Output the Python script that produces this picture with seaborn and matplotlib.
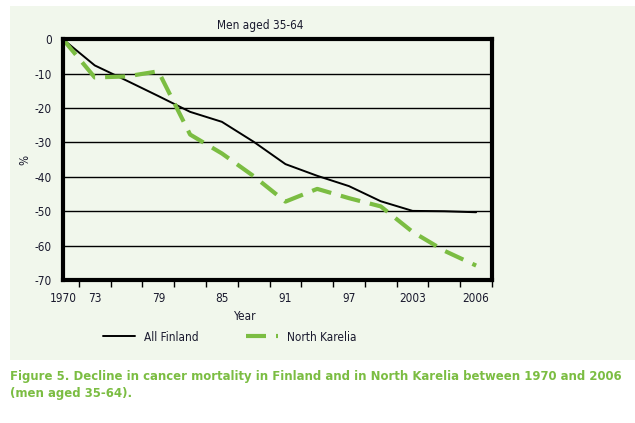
import numpy as np
import pandas as pd
import matplotlib.pyplot as plt
from matplotlib.patches import Rectangle
from matplotlib.lines import Line2D
import seaborn as sns

# data points (3-year steps)
point_idx = list(range(14))
all_finland = [0, -7.6, -12.0, -16.5, -21.1, -24.0, -29.8, -36.3, -39.7, -42.7, -47.1, -49.9, -50.0, -50.3]
north_karelia = [0, -11.1, -10.8, -9.3, -27.7, -33.2, -39.8, -47.2, -43.5, -46.2, -48.6, -56.0, -61.5, -65.8]

tick_pos = [0, 1, 3, 5, 7, 9, 11, 13]
tick_labels = ["1970", "73", "79", "85", "91", "97", "2003", "2006"]
y_ticks = [0, -10, -20, -30, -40, -50, -60, -70]

green = "#7bbd42"
panel = "#f1f7ec"
ink = "#1a1a2e"
fs = 8.5

sns.set_style("white")
plt.rcParams["font.family"] = ["DejaVu Sans"]
plt.rcParams["font.stretch"] = "condensed"
plt.rcParams["text.color"] = ink
plt.rcParams["xtick.color"] = ink
plt.rcParams["ytick.color"] = ink

df = pd.DataFrame({"idx": point_idx * 2,
                   "value": all_finland + north_karelia,
                   "region": ["All Finland"] * 14 + ["North Karelia"] * 14})

fig = plt.figure(figsize=(6.35, 4.23), dpi=100)
fig.patch.set_facecolor("white")
fig.patches.append(Rectangle((10 / 635, 1 - 360 / 423), 625 / 635, 354 / 423,
                             transform=fig.transFigure, facecolor=panel,
                             edgecolor="none", zorder=-5))

ax = fig.add_axes([63 / 635, 1 - 280 / 423, 429 / 635, 240.7 / 423])
ax.set_facecolor(panel)

sns.lineplot(data=df[df.region == "All Finland"], x="idx", y="value", ax=ax,
             color="black", linewidth=1.4, legend=False)
sns.lineplot(data=df[df.region == "North Karelia"], x="idx", y="value", ax=ax,
             color=green, linewidth=3, legend=False, dashes=False)
ax.lines[-1].set_dashes([4.8, 2.4])

ax.set_xlim(0, 13.5)
ax.set_ylim(-70, 0)
ax.set_yticks(y_ticks)
ax.set_yticklabels([str(v) for v in y_ticks], fontsize=fs)
ax.yaxis.grid(True, color="black", linewidth=1)
ax.set_axisbelow(True)

ax.set_xticks(tick_pos)
ax.set_xticklabels(tick_labels, fontsize=fs)
ax.tick_params(axis="x", length=0, pad=9)
ax.tick_params(axis="y", length=0, pad=8)
ax.set_xticks(np.arange(0.5, 14, 1), minor=True)
ax.tick_params(axis="x", which="minor", length=5, width=1, direction="out", bottom=True, color="black")

for s in ax.spines.values():
    s.set_visible(True)
    s.set_color("black")
    s.set_linewidth(3)

ax.set_xlabel("")
ax.set_ylabel("")
fig.text(25 / 635, 1 - 160 / 423, "%", rotation=90, ha="center", va="center", fontsize=fs)
fig.text(245 / 635, 1 - 316 / 423, "Year", ha="center", va="center", fontsize=fs)
fig.text(260 / 635, 1 - 25 / 423, "Men aged 35-64", ha="center", va="center", fontsize=fs)

handles = [Line2D([], [], color="black", linewidth=1.4),
           Line2D([], [], color=green, linewidth=3, dashes=[4.8, 2.4])]
fig.legend(handles, ["All Finland", "North Karelia"], loc="center",
           bbox_to_anchor=(230 / 635, 1 - 337 / 423), ncol=2, frameon=False,
           fontsize=fs, handlelength=2.7, handletextpad=0.8, columnspacing=4.0)

fig.text(10 / 635, 1 - 385 / 423,
         "Figure 5. Decline in cancer mortality in Finland and in North Karelia between 1970 and 2006\n(men aged 35-64).",
         ha="left", va="center", fontsize=9.4, fontweight="bold", color=green, linespacing=1.45)

fig.savefig("out.png", dpi=100)
